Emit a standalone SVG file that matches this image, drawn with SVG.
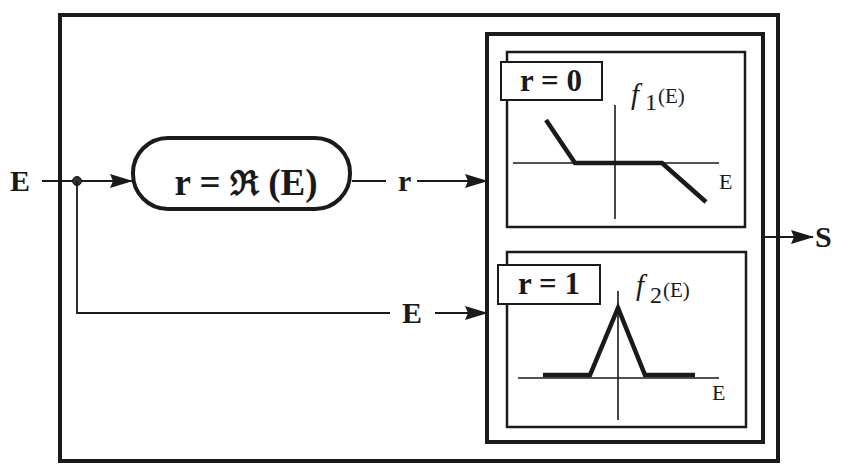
<svg xmlns="http://www.w3.org/2000/svg" width="860" height="466" viewBox="0 0 860 466">
  <style>
    .frame { fill: none; stroke: #1a1a1a; stroke-width: 4; }
    .panel { fill: #fff; stroke: #1a1a1a; stroke-width: 2.5; }
    .tag { fill: #fff; stroke: #1a1a1a; stroke-width: 2; }
    .axis { fill: none; stroke: #1a1a1a; stroke-width: 1.6; }
    .curve { fill: none; stroke: #1a1a1a; stroke-width: 4.5; stroke-linejoin: miter; }
    .wire { fill: none; stroke: #1a1a1a; stroke-width: 1.8; }
    .bold { font-family: "Liberation Serif", "Times New Roman", serif; font-weight: bold; fill: #1a1a1a; }
    .plain { font-family: "Liberation Serif", "Times New Roman", serif; fill: #1a1a1a; }
  </style>
  <defs>
    <marker id="arrow" markerWidth="23" markerHeight="14" refX="22" refY="7" orient="auto" markerUnits="userSpaceOnUse">
      <path d="M0,0 L23,7 L0,14 L3,7 Z" fill="#1a1a1a"/>
    </marker>
  </defs>
  <rect width="860" height="466" fill="#fff"/>

  <!-- outer system boundary -->
  <g id="system">
    <rect class="frame" x="60" y="15" width="718" height="446"/>
  </g>

  <!-- selector block -->
  <g id="selector">
    <rect x="133" y="138" width="217" height="71" rx="35" ry="35" fill="#fff" stroke="#1a1a1a" stroke-width="4"/>
    <text class="bold" x="246" y="195" font-size="37" text-anchor="middle">r = <tspan font-family="DejaVu Serif, serif" font-size="34">ℜ</tspan> (E)</text>
  </g>

  <!-- function bank -->
  <g id="bank">
    <rect class="frame" x="487" y="34" width="276" height="408"/>
  </g>

  <g id="panel-f1">
    <rect class="panel" x="507" y="52" width="238" height="175"/>
    <rect class="tag" x="501" y="62" width="101" height="38"/>
    <text class="bold" x="551" y="91" font-size="31" text-anchor="middle">r = 0</text>
    <text class="plain" x="631" y="104" font-size="29" font-style="italic">f</text>
    <text class="plain" x="645" y="110" font-size="24">1</text>
    <text class="plain" x="658" y="103" font-size="21">(E)</text>
    <line class="axis" x1="615" y1="105" x2="615" y2="219"/>
    <line class="axis" x1="513" y1="163" x2="719" y2="163"/>
    <polyline class="curve" points="546,120 575,163 662,163 706,202"/>
    <text class="plain" x="719" y="189" font-size="22">E</text>
  </g>

  <g id="panel-f2">
    <rect class="panel" x="507" y="252" width="239" height="175"/>
    <rect class="tag" x="498" y="265" width="102" height="39"/>
    <text class="bold" x="549" y="294" font-size="31" text-anchor="middle">r = 1</text>
    <text class="plain" x="636" y="295" font-size="29" font-style="italic">f</text>
    <text class="plain" x="650" y="303" font-size="24">2</text>
    <text class="plain" x="663" y="297" font-size="21">(E)</text>
    <line class="axis" x1="618" y1="291" x2="618" y2="420"/>
    <line class="axis" x1="518" y1="378" x2="719" y2="378"/>
    <polyline class="curve" points="543,375 590,375 618,308 645,375 695,375"/>
    <text class="plain" x="712" y="400" font-size="22">E</text>
  </g>

  <!-- signal lines -->
  <g id="connectors">
    <line class="wire" x1="42" y1="181" x2="132" y2="181" marker-end="url(#arrow)"/>
    <circle cx="77" cy="181" r="4.5" fill="#333" stroke="#1a1a1a" stroke-width="1"/>
    <polyline class="wire" points="77,181 77,313 390,313"/>
    <line class="wire" x1="435" y1="313" x2="487" y2="313" marker-end="url(#arrow)"/>
    <line class="wire" x1="352" y1="181" x2="386" y2="181"/>
    <line class="wire" x1="417" y1="181" x2="487" y2="181" marker-end="url(#arrow)"/>
    <line class="wire" x1="765" y1="237" x2="813" y2="237" marker-end="url(#arrow)"/>
  </g>

  <g id="labels">
    <text class="bold" x="10" y="191" font-size="30">E</text>
    <text class="bold" x="398" y="191" font-size="30">r</text>
    <text class="bold" x="402" y="323" font-size="30">E</text>
    <text class="bold" x="815" y="247" font-size="30">S</text>
  </g>
</svg>
